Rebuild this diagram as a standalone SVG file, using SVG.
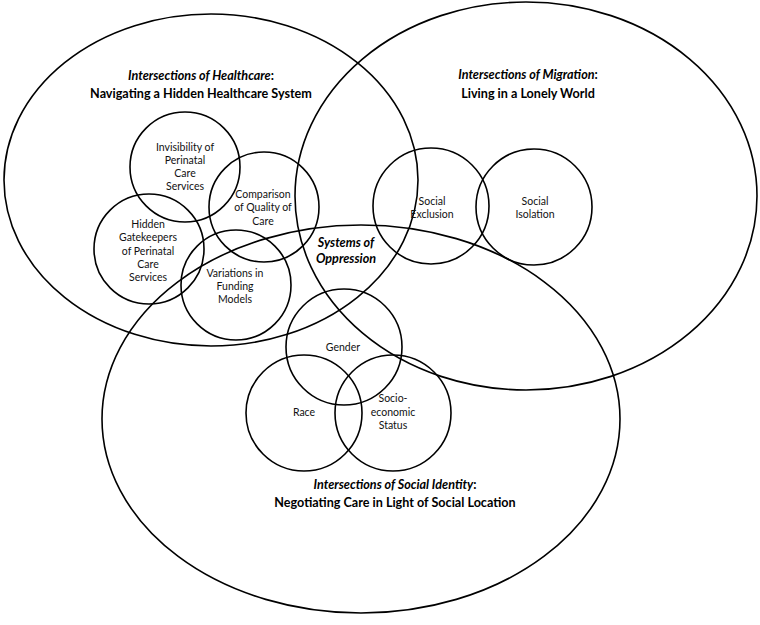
<svg xmlns="http://www.w3.org/2000/svg" width="760" height="625" viewBox="0 0 760 625">
<style>
.o{fill:none;stroke:#000;stroke-width:1.6}
.t{font-family:Lato,"Open Sans","Liberation Sans",sans-serif;font-size:10.5px;fill:#111;text-anchor:middle}
.h{font-family:Lato,"Open Sans","Liberation Sans",sans-serif;font-size:12.6px;font-weight:bold;fill:#000;text-anchor:middle}
.i{font-style:italic}
</style>
<rect width="760" height="625" fill="#fff"/>
<g id="connectors"></g>
<g id="healthcare">
<ellipse class="o" cx="211" cy="180" rx="207" ry="166"/>
<text class="h" x="201" y="80"><tspan class="i">Intersections of Healthcare</tspan>:</text>
<text class="h" x="201" y="98">Navigating a Hidden Healthcare System</text>
</g>
<g id="migration">
<ellipse class="o" cx="526" cy="196" rx="231" ry="194"/>
<text class="h" x="528" y="79"><tspan class="i">Intersections of Migration</tspan>:</text>
<text class="h" x="528" y="98">Living in a Lonely World</text>
</g>
<g id="identity">
<ellipse class="o" cx="361" cy="419" rx="259" ry="194"/>
<text class="h" x="395" y="489"><tspan class="i">Intersections of Social Identity</tspan>:</text>
<text class="h" x="395" y="507">Negotiating Care in Light of Social Location</text>
</g>
<g id="oppression">
<text class="h i" x="346" y="247" font-size="12">Systems of</text>
<text class="h i" x="346" y="263" font-size="12">Oppression</text>
</g>
<g id="invisibility">
<circle class="o" cx="185" cy="167" r="55"/>
<text class="t" x="185" y="151">Invisibility of</text>
<text class="t" x="185" y="164">Perinatal</text>
<text class="t" x="185" y="177">Care</text>
<text class="t" x="185" y="190">Services</text>
</g>
<g id="comparison">
<circle class="o" cx="264" cy="207" r="55"/>
<text class="t" x="263" y="198">Comparison</text>
<text class="t" x="263" y="211">of Quality of</text>
<text class="t" x="263" y="225">Care</text>
</g>
<g id="gatekeepers">
<circle class="o" cx="149" cy="249" r="55"/>
<text class="t" x="148" y="228">Hidden</text>
<text class="t" x="148" y="241">Gatekeepers</text>
<text class="t" x="148" y="255">of Perinatal</text>
<text class="t" x="148" y="268">Care</text>
<text class="t" x="148" y="281">Services</text>
</g>
<g id="funding">
<circle class="o" cx="236" cy="285" r="55"/>
<text class="t" x="235" y="277">Variations in</text>
<text class="t" x="235" y="290">Funding</text>
<text class="t" x="235" y="303">Models</text>
</g>
<g id="exclusion">
<circle class="o" cx="431" cy="206" r="58"/>
<text class="t" x="432" y="205">Social</text>
<text class="t" x="432" y="218">Exclusion</text>
</g>
<g id="isolation">
<circle class="o" cx="534" cy="207" r="58"/>
<text class="t" x="535" y="205">Social</text>
<text class="t" x="535" y="218">Isolation</text>
</g>
<g id="gender">
<circle class="o" cx="344" cy="347" r="58"/>
<text class="t" x="343" y="351">Gender</text>
</g>
<g id="race">
<circle class="o" cx="304" cy="413" r="58"/>
<text class="t" x="304" y="416">Race</text>
</g>
<g id="socio">
<circle class="o" cx="393" cy="413" r="58"/>
<text class="t" x="393" y="402">Socio-</text>
<text class="t" x="393" y="416">economic</text>
<text class="t" x="393" y="429">Status</text>
</g>
</svg>
